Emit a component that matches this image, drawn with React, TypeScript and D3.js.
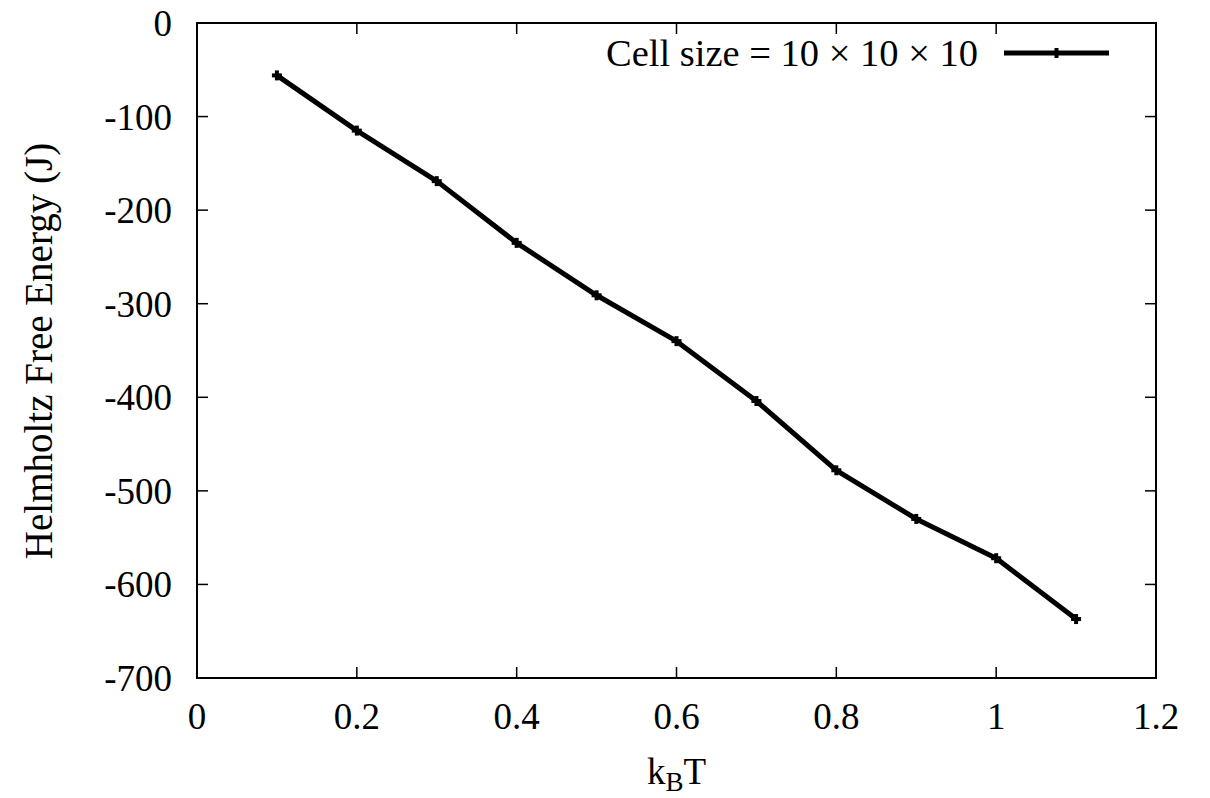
import React from "react";
import * as d3 from "d3";

// k_B T values and the free energy
const kbt = [0.1, 0.2, 0.3, 0.4, 0.5, 0.6, 0.7, 0.8, 0.9, 1.0, 1.1];
const energy = [-56, -115, -169, -235, -291, -340, -404, -478, -530, -572, -637];

const xTicks = [0, 0.2, 0.4, 0.6, 0.8, 1, 1.2];
const yTicks = [0, -100, -200, -300, -400, -500, -600, -700];

const legendLabel = "Cell size = 10 × 10 × 10";

const W = 1210;
const H = 798;
const margin = { left: 197, right: 54, top: 23, bottom: 120 };
const font = "Liberation Serif";
const fs = 37;

const Cross = ({ x, y }: { x: number; y: number }) => (
  <g>
    <line x1={x - 5} x2={x + 5} y1={y} y2={y} stroke="black" strokeWidth={4} />
    <line x1={x} x2={x} y1={y - 5} y2={y + 5} stroke="black" strokeWidth={4} />
  </g>
);

export default function App() {
  const x = d3.scaleLinear().domain([0, 1.2]).range([margin.left, W - margin.right]);
  const y = d3.scaleLinear().domain([-700, 0]).range([H - margin.bottom, margin.top]);

  const pts = kbt.map((k, i) => [x(k), y(energy[i])] as [number, number]);
  const line = d3.line()(pts) || "";

  const [x0, x1] = x.range();
  const [y0, y1] = y.range(); // y0 bottom, y1 top
  const tick = 11;
  const ts = { fontFamily: font, fontSize: fs };

  return (
    <svg
      width={W}
      height={H}
      style={{ position: "absolute", left: 0, top: 0, background: "white" }}
    >
      {/* ticks on all four sides */}
      {xTicks.map((t) => (
        <g key={"x" + t}>
          <line x1={x(t)} x2={x(t)} y1={y0} y2={y0 - tick} stroke="black" strokeWidth={1.5} />
          <line x1={x(t)} x2={x(t)} y1={y1} y2={y1 + tick} stroke="black" strokeWidth={1.5} />
          <text x={x(t)} y={729} textAnchor="middle" style={ts}>
            {String(t)}
          </text>
        </g>
      ))}
      {yTicks.map((t) => (
        <g key={"y" + t}>
          <line x1={x0} x2={x0 + tick} y1={y(t)} y2={y(t)} stroke="black" strokeWidth={1.5} />
          <line x1={x1} x2={x1 - tick} y1={y(t)} y2={y(t)} stroke="black" strokeWidth={1.5} />
          <text x={172} y={y(t)} dy="0.35em" textAnchor="end" style={ts}>
            {String(t)}
          </text>
        </g>
      ))}

      <rect x={x0} y={y1} width={x1 - x0} height={y0 - y1} fill="none" stroke="black" strokeWidth={2} />

      <path d={line} fill="none" stroke="black" strokeWidth={5} strokeLinejoin="round" />
      {pts.map((p, i) => (
        <Cross key={i} x={p[0]} y={p[1]} />
      ))}

      {/* legend */}
      <text x={978} y={53} dy="0.35em" textAnchor="end" style={{ fontFamily: font, fontSize: 38.5 }}>
        {legendLabel}
      </text>
      <line x1={1004} x2={1109} y1={53} y2={53} stroke="black" strokeWidth={5} />
      <Cross x={1056.5} y={53} />

      {/* axis labels */}
      <text x={(x0 + x1) / 2} y={784} textAnchor="middle" style={ts}>
        k<tspan dy={7} style={{ fontSize: 27 }}>B</tspan>
        <tspan dy={-7}>T</tspan>
      </text>
      <text
        transform={`translate(52, 351) rotate(-90)`}
        textAnchor="middle"
        style={{ fontFamily: font, fontSize: 39 }}
      >
        Helmholtz Free Energy (J)
      </text>
    </svg>
  );
}
